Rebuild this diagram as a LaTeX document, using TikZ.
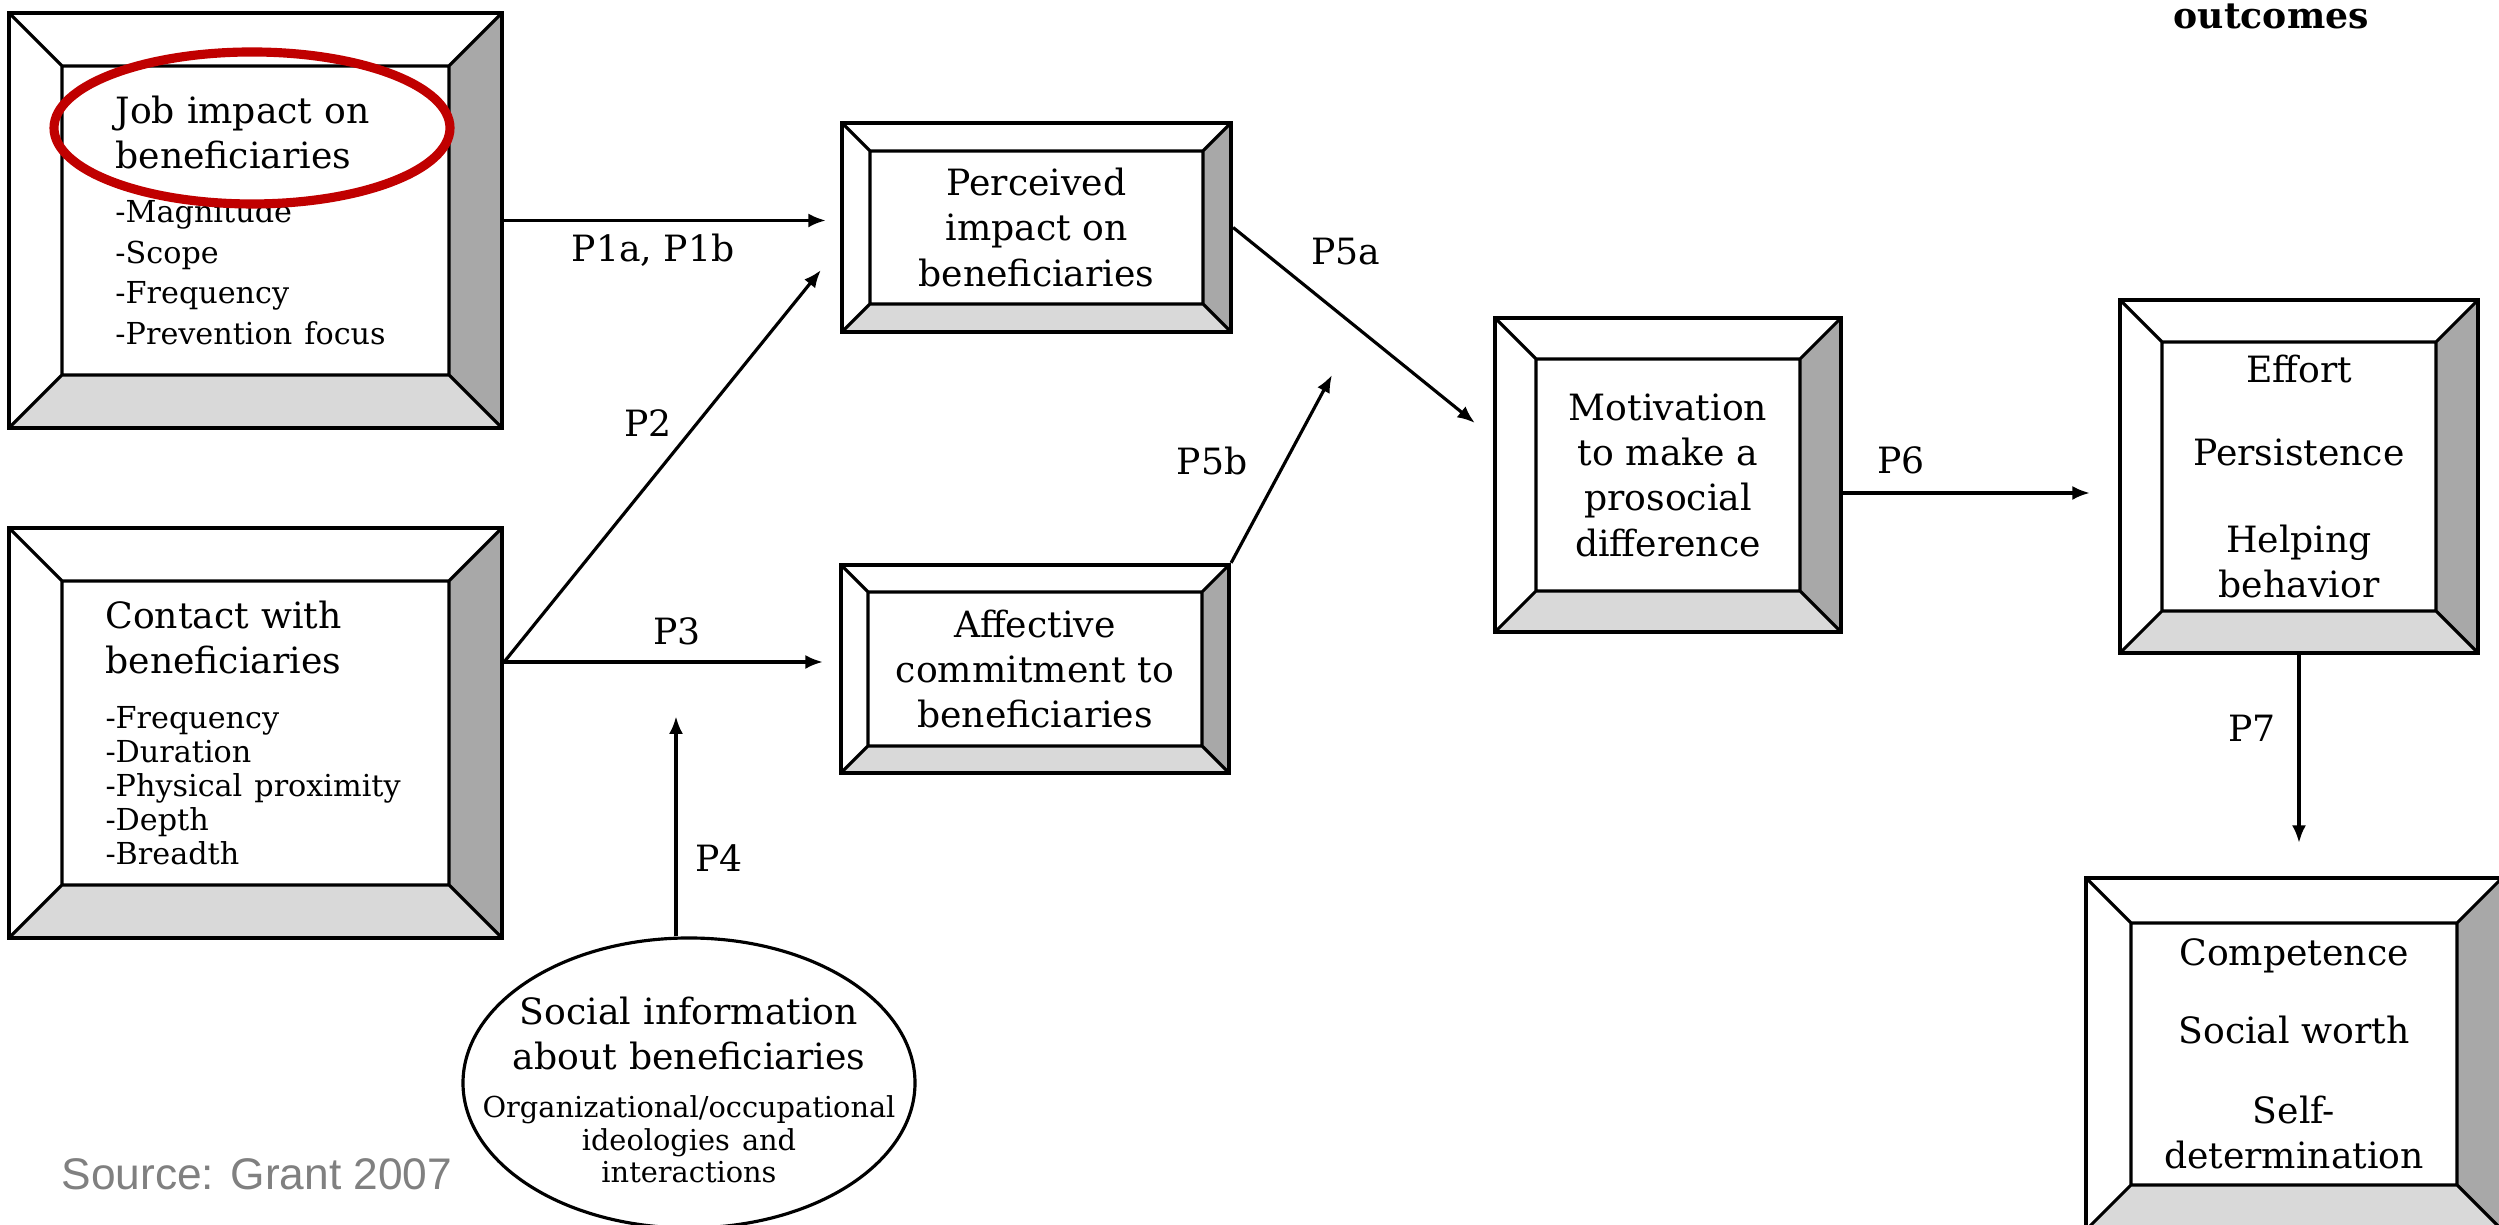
\documentclass[tikz,border=0pt]{standalone}
\usepackage{fontspec}
\setmainfont{DejaVu Serif}
\newfontfamily\srcfont{Liberation Sans}
\usetikzlibrary{arrows.meta,shapes.geometric}
\setlength{\parindent}{0pt}

\definecolor{bevelside}{gray}{0.66}
\definecolor{bevelbase}{gray}{0.85}
\definecolor{markred}{RGB}{192,0,0}
\definecolor{srcgray}{gray}{0.5}

\newcommand{\boxfont}{\fontsize{10.3}{12.9}\selectfont}
\newcommand{\itemfont}{\fontsize{8.6}{11.6}\selectfont}
\newcommand{\notefont}{\fontsize{8.2}{9.3}\selectfont}

\tikzset{
  bevelbox/.style={draw, line width=1.2pt, inner sep=0pt, font=\boxfont,
    path picture={
      \coordinate (bl) at (path picture bounding box.south west);
      \coordinate (tr) at (path picture bounding box.north east);
      \coordinate (br) at (path picture bounding box.south east);
      \coordinate (tl) at (path picture bounding box.north west);
      \fill[bevelside] (br) -- (tr) -- ([shift={(-#1,-#1)}]tr) -- ([shift={(-#1,#1)}]br) -- cycle;
      \fill[bevelbase] (bl) -- (br) -- ([shift={(-#1,#1)}]br) -- ([shift={(#1,#1)}]bl) -- cycle;
      \draw[line width=0.9pt] ([shift={(#1,#1)}]bl) rectangle ([shift={(-#1,-#1)}]tr)
        (bl) -- ([shift={(#1,#1)}]bl) (br) -- ([shift={(-#1,#1)}]br)
        (tr) -- ([shift={(-#1,-#1)}]tr) (tl) -- ([shift={(#1,-#1)}]tl);
    }},
  socell/.style={draw, ellipse, line width=0.9pt, inner sep=0pt, minimum width=4.52cm, minimum height=2.9cm},
  arr/.style={-{Latex[length=5pt,width=4pt]}, line width=0.9pt},
  plabel/.style={font=\boxfont, anchor=base, inner sep=0pt}
}

\begin{document}
\begin{tikzpicture}
  \useasboundingbox (0,0) rectangle (24.99,12.25);

  % Kästen
  \node[bevelbox=0.53cm, minimum width=4.93cm, minimum height=4.15cm, text width=2.8cm, align=left] (job) at (2.555,10.045)
    {Job impact on\\ beneficiaries\par\vspace{3.6pt}\itemfont -Magnitude\\ -Scope\\ -Frequency\\ -Prevention~focus\par};
  \node[bevelbox=0.53cm, minimum width=4.93cm, minimum height=4.10cm, text width=3.0cm, align=left] (contact) at (2.555,4.92)
    {Contact with\\ beneficiaries\par\vspace{5.95pt}\fontsize{8.6}{9.65}\selectfont -Frequency\\ -Duration\\ -Physical~proximity\\ -Depth\\ -Breadth\par};
  \node[bevelbox=0.28cm, minimum width=3.89cm, minimum height=2.09cm, align=center] (perc) at (10.365,9.975)
    {Perceived\\ impact on\\ beneficiaries};
  \node[bevelbox=0.27cm, minimum width=3.88cm, minimum height=2.08cm, align=center] (aff) at (10.35,5.56)
    {Affective\\ commitment to\\ beneficiaries};
  \node[bevelbox=0.41cm, minimum width=3.46cm, minimum height=3.14cm, align=center] (motiv) at (16.68,7.50)
    {Motivation\\ to make a\\ prosocial\\ difference};
  \node[bevelbox=0.42cm, minimum width=3.58cm, minimum height=3.53cm, align=center] (effort) at (22.99,7.485)
    {Effort\\[10.6pt] Persistence\\[11.8pt] Helping\\ behavior};
  \node[bevelbox=0.45cm, minimum width=4.16cm, minimum height=3.52cm, align=center] (comp) at (22.94,1.71)
    {Competence\\[9.2pt] Social worth\\[9.8pt] Self-\\ determination};

  \node[socell] (soc) at (6.89,1.42) {};
  \node[text width=4.3cm, align=center, font=\boxfont, inner sep=0pt] (soctext) at ([yshift=-0.07cm]soc.center)
    {Social information\\ about beneficiaries\par\vspace{4.3pt}\notefont Organizational/occupational\\ ideologies and\\ interactions\par};

  % Markierung
  \draw[markred, line width=2.6pt] (2.52,10.97) ellipse (1.98cm and 0.76cm);

  % Pfeile & Beschriftung
  \coordinate (fork) at ([yshift=0.71cm]contact.east);
  \coordinate (p4tip) at ([xshift=-0.13cm,yshift=2.2cm]soc.north);
  \coordinate (p5btip) at (13.32,8.50);
  \draw[arr] (job.east) -- ([xshift=-0.14cm]job.east -| perc.west);
  \draw[arr] (fork) -- ([shift={(-0.19cm,0.64cm)}]perc.south west);
  \draw[arr] (fork) -- ([xshift=-0.16cm]fork -| aff.west);
  \draw[arr] ([xshift=-0.13cm]soc.north) -- (p4tip);
  \draw[arr] (perc.east) -- ([shift={(-0.18cm,0.52cm)}]motiv.west);
  \draw[arr] (aff.north east) -- (p5btip);
  \draw[arr] ([yshift=-0.18cm]motiv.east) -- ([xshift=-0.28cm,yshift=-0.18cm]motiv.east -| effort.west);
  \draw[arr] (effort.south) -- ([yshift=0.33cm]effort.south |- comp.north);

  \node[plabel] (lp1) at (6.53,9.63) {P1a, P1b};
  \node[plabel] (lp2) at (6.48,7.88) {P2};
  \node[plabel] (lp3) at (6.77,5.80) {P3};
  \node[plabel] (lp4) at (7.19,3.53) {P4};
  \node[plabel] (lp5a) at (13.46,9.60) {P5a};
  \node[plabel] (lp5b) at (12.12,7.50) {P5b};
  \node[plabel] (lp6) at (19.01,7.51) {P6};
  \node[plabel] (lp7) at (22.52,4.83) {P7};

  \node[anchor=base west, inner sep=0pt, font=\boxfont\bfseries] (outc) at (21.73,11.96) {outcomes};
  \node[anchor=base west, inner sep=0pt, text=srcgray, font=\srcfont\fontsize{12.6}{15}\selectfont] (src) at (0.61,0.35) {Source: Grant 2007};
\end{tikzpicture}
\end{document}
